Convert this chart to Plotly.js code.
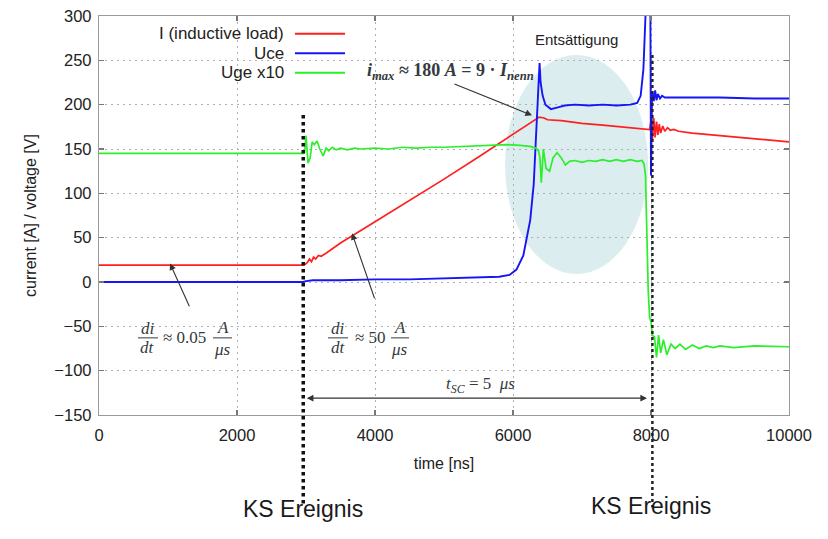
<!DOCTYPE html>
<html>
<head>
<meta charset="utf-8">
<script src="https://cdn.plot.ly/plotly-3.0.1.min.js"></script>
<style>html,body{margin:0;padding:0;background:#fff;}#chart{width:828px;height:539px;}</style>
</head>
<body>
<div id="chart"></div>
<script>
// ---- data ----
const seriesNames = ['I (inductive load)', 'Uce', 'Uge x10'];

const tI = [0, 1000, 2000, 2960, 2990, 3020, 3050, 3080, 3110, 3140, 3180, 3220, 3300, 3500, 4000, 4500, 5000, 5500, 6000, 6200, 6300, 6380, 6450, 6500, 6700, 7000, 7300, 7600, 7900, 7980, 8000, 8020, 8040, 8060, 8080, 8100, 8120, 8140, 8170, 8200, 8240, 8280, 8330, 8400, 8600, 9000, 9500, 10000];
const I  = [19, 19, 19, 19, 20, 22, 26, 23, 28, 26, 30, 29, 33, 44, 68, 92, 116, 141, 166, 176, 181, 186, 185, 183, 182, 179, 177, 175, 173, 172, 182, 160, 185, 163, 181, 166, 178, 168, 176, 170, 174, 171, 172, 170, 168, 165, 162, 158];

const tU = [0, 1000, 2000, 2960, 3000, 3100, 3500, 4000, 4500, 5000, 5500, 5800, 5950, 6050, 6150, 6250, 6300, 6340, 6370, 6385, 6400, 6430, 6470, 6550, 6650, 6750, 6900, 7100, 7300, 7500, 7700, 7800, 7850, 7890, 7920, 7950, 7990, 8000, 8015, 8040, 8060, 8080, 8100, 8130, 8160, 8200, 8300, 8500, 9000, 9500, 10000];
const U  = [0, 0, 0, 0, 1, 2, 2, 3, 3, 4, 5, 6, 8, 14, 30, 70, 110, 170, 225, 247, 225, 210, 200, 195, 197, 199, 200, 199, 200, 199, 200, 202, 210, 240, 300, 330, 330, 120, 215, 204, 216, 205, 212, 207, 210, 208, 208, 208, 208, 207, 207];

const tG = [0, 1000, 2000, 2960, 2980, 3000, 3030, 3060, 3090, 3120, 3160, 3200, 3250, 3290, 3330, 3380, 3440, 3500, 3600, 3700, 3800, 4000, 4200, 4400, 4600, 4800, 5000, 5300, 5600, 5900, 6100, 6250, 6330, 6370, 6390, 6410, 6440, 6480, 6530, 6580, 6640, 6700, 6760, 6820, 6900, 7000, 7100, 7200, 7300, 7400, 7500, 7600, 7700, 7800, 7870, 7900, 7920, 7940, 7960, 7980, 8000, 8020, 8050, 8080, 8110, 8140, 8180, 8230, 8290, 8350, 8420, 8500, 8600, 8700, 8800, 8900, 9000, 9200, 9500, 10000];
const G  = [145, 145, 145, 145, 146, 165, 134, 140, 158, 155, 159, 150, 142, 151, 148, 152, 149, 151, 149, 151, 150, 151, 150, 152, 151, 152, 152, 153, 154, 155, 154, 153, 151, 148, 140, 112, 150, 128, 125, 140, 146, 140, 132, 136, 137, 135, 137, 136, 138, 136, 138, 136, 138, 136, 137, 133, 120, 40, -10, -40, -45, -60, -62, -85, -60, -80, -65, -82, -70, -75, -70, -76, -71, -75, -72, -74, -72, -74, -72, -73];

const xTicks = [0, 2000, 4000, 6000, 8000, 10000];
const xTickText = ['0', '2000', '4000', '6000', '8000', '10000'];
const yTicks = [-150, -100, -50, 0, 50, 100, 150, 200, 250, 300];
const eventTimes = [2960, 8020];
const eventLabel = 'KS Ereignis';

// ---- styling ----
const RED = '#ff1f1f', BLUE = '#1515f5', GREEN = '#2bef2b';
const sans = 'Liberation Sans, Arial, sans-serif';
const serif = 'Liberation Serif, DejaVu Serif, serif';
const ink = '#333a40';

const traces = [
  {x: tI, y: I, name: seriesNames[0], mode: 'lines', line: {color: RED, width: 1.7}},
  {x: tU, y: U, name: seriesNames[1], mode: 'lines', line: {color: BLUE, width: 1.9}},
  {x: tG, y: G, name: seriesNames[2], mode: 'lines', line: {color: GREEN, width: 1.7}}
];

const shapes = [
  // desaturation ellipse
  {type: 'circle', xref: 'x', yref: 'y', x0: 5884, x1: 7957, y0: 9, y1: 256,
   fillcolor: '#dcedf0', line: {width: 0}, layer: 'below'},
  // KS event lines
  {type: 'line', xref: 'x', yref: 'paper', x0: eventTimes[0], x1: eventTimes[0], y0: 0.752, y1: -0.222,
   line: {color: '#111', width: 3.5, dash: 'dot'}},
  {type: 'line', xref: 'x', yref: 'paper', x0: eventTimes[1], x1: eventTimes[1], y0: 0.902, y1: -0.232,
   line: {color: '#222', width: 2.5, dash: 'dot'}},
  // legend line samples
  {type: 'line', xref: 'x', yref: 'y', x0: 2840, x1: 3565, y0: 280, y1: 280, line: {color: RED, width: 2}},
  {type: 'line', xref: 'x', yref: 'y', x0: 2840, x1: 3565, y0: 258, y1: 258, line: {color: BLUE, width: 2}},
  {type: 'line', xref: 'x', yref: 'y', x0: 2840, x1: 3565, y0: 236, y1: 236, line: {color: GREEN, width: 2}},
  // fraction bars
  {type: 'line', xref: 'x', yref: 'y', x0: 565, x1: 855, y0: -63, y1: -63, line: {color: ink, width: 1}},
  {type: 'line', xref: 'x', yref: 'y', x0: 1652, x1: 1928, y0: -63, y1: -63, line: {color: ink, width: 1}},
  {type: 'line', xref: 'x', yref: 'y', x0: 3319, x1: 3609, y0: -63, y1: -63, line: {color: ink, width: 1}},
  {type: 'line', xref: 'x', yref: 'y', x0: 4232, x1: 4493, y0: -63, y1: -63, line: {color: ink, width: 1}}
];

function txt(x, y, text, opts) {
  return Object.assign({x: x, y: y, xref: 'x', yref: 'y', text: text, showarrow: false,
    font: {family: serif, size: 17, color: ink}}, opts || {});
}
function arrow(x, y, ax, ay, extra) {
  return Object.assign({x: x, y: y, ax: ax, ay: ay, xref: 'x', yref: 'y', axref: 'x', ayref: 'y',
    text: '', showarrow: true, arrowhead: 2, arrowsize: 1.2, arrowwidth: 1.1, arrowcolor: '#333'}, extra || {});
}

const legendFont = {family: sans, size: 17, color: '#222'};
const annotations = [
  // legend texts
  txt(2710, 280, seriesNames[0], {xanchor: 'right', font: legendFont}),
  txt(2710, 258, seriesNames[1], {xanchor: 'right', font: legendFont}),
  txt(2710, 236, seriesNames[2], {xanchor: 'right', font: legendFont}),
  // Entsättigung
  txt(6927, 273, 'Entsättigung', {font: {family: sans, size: 15, color: '#222'}}),
  // i_max
  txt(5087, 237, '<b><i>i</i><sub><i>max</i></sub> ≈ 180 <i>A</i> = 9 · <i>I</i><sub><i>nenn</i></sub></b>', {font: {family: serif, size: 18, color: ink}}),
  arrow(6275, 188, 5130, 224),
  // di/dt ≈ 0.05 A/µs
  txt(710, -52, '<i>di</i>'), txt(710, -74, '<i>dt</i>'),
  txt(1232, -63, '≈ 0.05'),
  txt(1790, -51, '<i>A</i>'), txt(1790, -76, '<i>μs</i>'),
  arrow(1029, 21, 1319, -29),
  // di/dt ≈ 50 A/µs
  txt(3464, -52, '<i>di</i>'), txt(3464, -74, '<i>dt</i>'),
  txt(3928, -63, '≈ 50'),
  txt(4362, -51, '<i>A</i>'), txt(4362, -76, '<i>μs</i>'),
  arrow(3667, 55, 4000, -20),
  // t_SC
  txt(5522, -116, '<i>t</i><sub><i>SC</i></sub> = 5  <i>μs</i>'),
  arrow(7942, -131, 2990, -131, {arrowside: 'end+start', arrowhead: 2, arrowsize: 1.2}),
  // KS Ereignis
  {x: 2957, y: -0.273, xref: 'x', yref: 'paper', text: eventLabel, showarrow: false,
   font: {family: sans, size: 23, color: '#1a1a1a'}},
  {x: 8000, y: -0.266, xref: 'x', yref: 'paper', text: eventLabel, showarrow: false,
   font: {family: sans, size: 23, color: '#1a1a1a'}}
];

const axisCommon = {
  showgrid: true, gridcolor: '#b0b0b0', griddash: '2px,4px', gridwidth: 1,
  ticks: 'inside', ticklen: 5, tickcolor: '#777', tickwidth: 1.2,
  showline: true, linecolor: '#9a9a9a', linewidth: 1.2, mirror: 'ticks',
  zeroline: false, tickfont: {family: sans, size: 16.5, color: '#222'}
};

const layout = {
  width: 828, height: 539,
  margin: {l: 99, r: 39, t: 16, b: 124},
  paper_bgcolor: '#fff', plot_bgcolor: '#fff',
  showlegend: false,
  xaxis: Object.assign({}, axisCommon, {range: [0, 10000], tickvals: xTicks, ticktext: xTickText,
    ticklabelstandoff: 5,
    title: {text: 'time [ns]', font: {family: sans, size: 16, color: '#222'}, standoff: 14}}),
  yaxis: Object.assign({}, axisCommon, {range: [-150, 300], tickvals: yTicks,
    ticklabelstandoff: 3,
    title: {text: 'current [A] / voltage [V]', font: {family: sans, size: 16, color: '#222'}, standoff: 13}}),
  shapes: shapes,
  annotations: annotations
};

Plotly.newPlot('chart', traces, layout, {displayModeBar: false, staticPlot: true});
</script>
</body>
</html>
